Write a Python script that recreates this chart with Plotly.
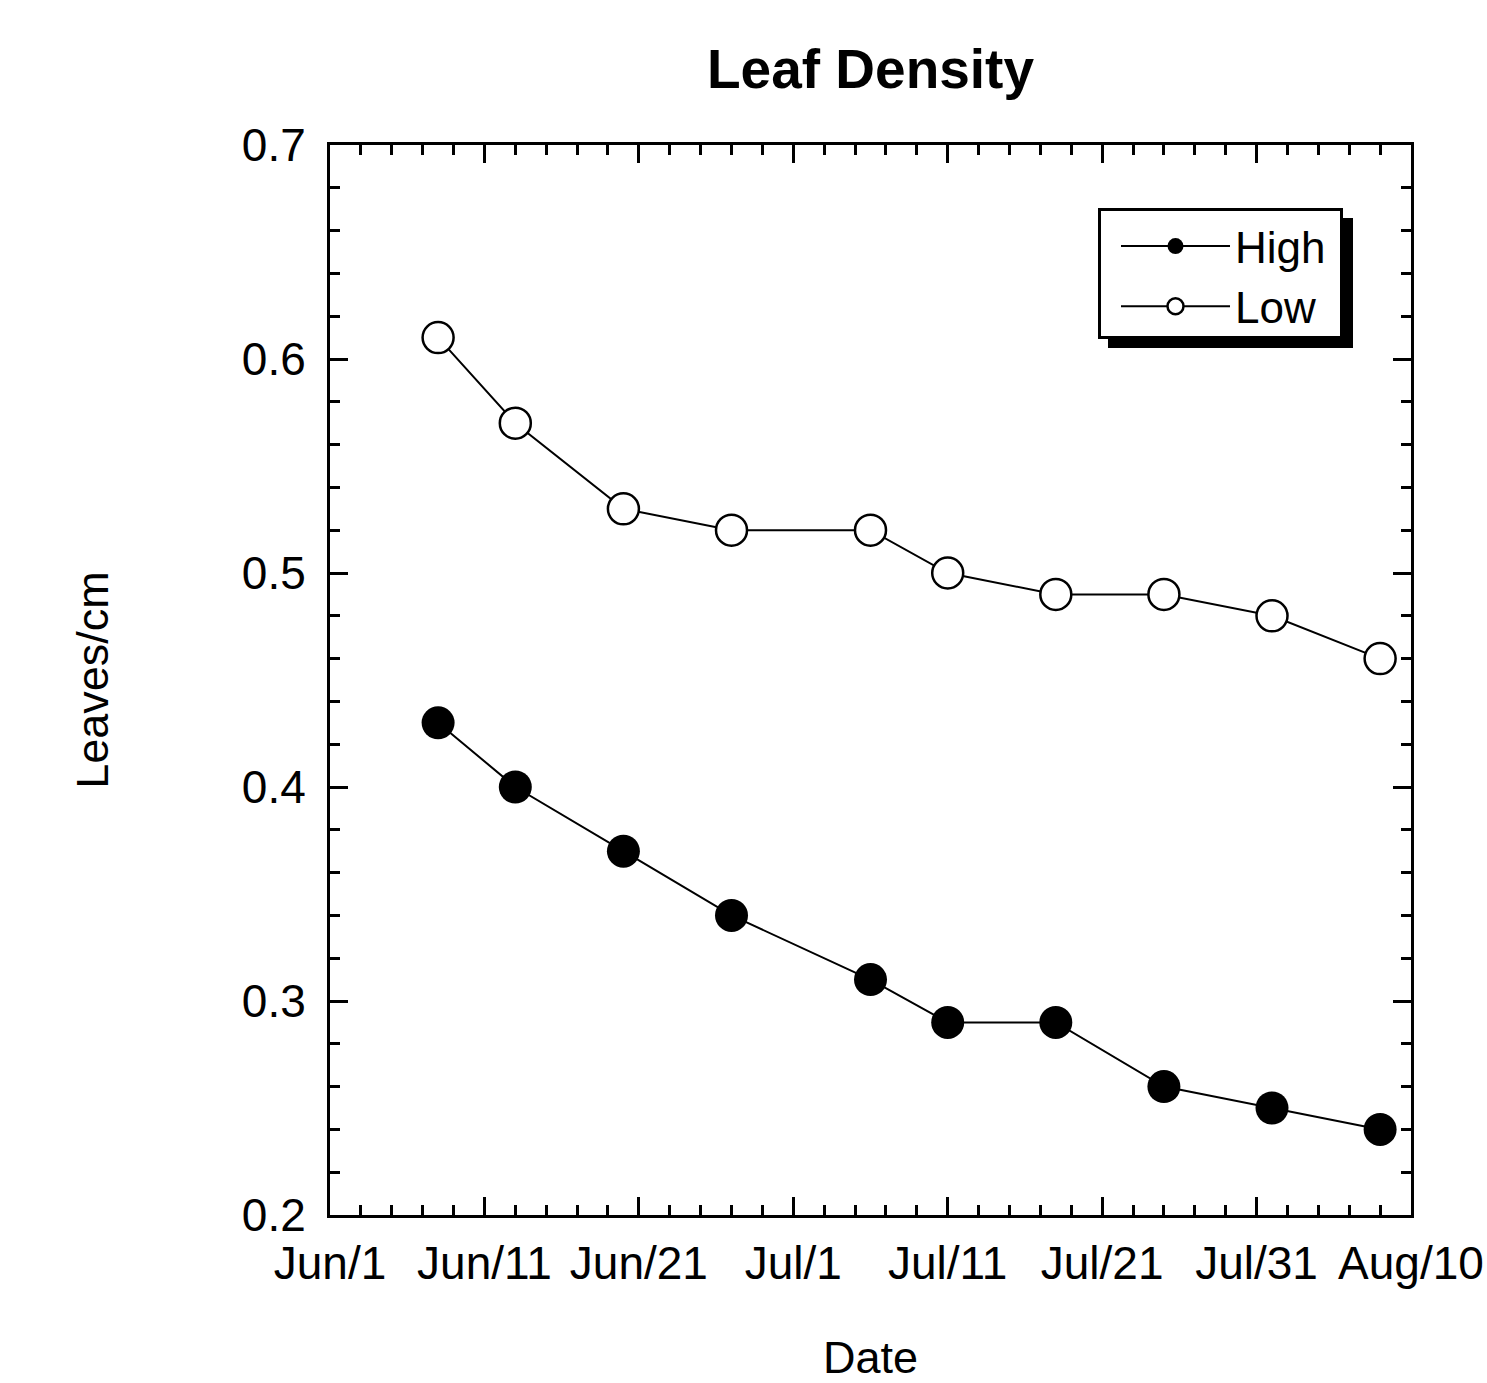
import plotly.graph_objects as go

dates = ["2000-06-08", "2000-06-13", "2000-06-20", "2000-06-27", "2000-07-06",
         "2000-07-11", "2000-07-18", "2000-07-25", "2000-08-01", "2000-08-08"]
high = [0.43, 0.40, 0.37, 0.34, 0.31, 0.29, 0.29, 0.26, 0.25, 0.24]
low = [0.61, 0.57, 0.53, 0.52, 0.52, 0.50, 0.49, 0.49, 0.48, 0.46]

tick_dates = ["2000-06-01", "2000-06-11", "2000-06-21", "2000-07-01",
              "2000-07-11", "2000-07-21", "2000-07-31", "2000-08-10"]
tick_labels = ["Jun/1", "Jun/11", "Jun/21", "Jul/1", "Jul/11", "Jul/21", "Jul/31", "Aug/10"]

FONT = "Liberation Sans, Arial, sans-serif"
W, H = 1487, 1383
L, R, T, B = 330, 76, 145, 168

fig = go.Figure()
fig.add_trace(go.Scatter(
    x=dates, y=high, name="High", mode="lines+markers",
    line=dict(color="black", width=2),
    marker=dict(symbol="circle", size=33, color="black", line=dict(color="black", width=0)),
))
fig.add_trace(go.Scatter(
    x=dates, y=low, name="Low", mode="lines+markers",
    line=dict(color="black", width=2),
    marker=dict(symbol="circle", size=31, color="white", line=dict(color="black", width=2.5)),
))

pw = W - L - R
ph = H - T - B
def px_x(p):
    return (p - L) / pw
def px_y(p):
    return (H - B - p) / ph

# legend frame with drop shadow
fig.add_shape(type="rect", xref="paper", yref="paper",
              x0=px_x(1108), x1=px_x(1353), y0=px_y(348), y1=px_y(218),
              fillcolor="black", line=dict(width=0), layer="above")
fig.add_shape(type="rect", xref="paper", yref="paper",
              x0=px_x(1099.5), x1=px_x(1341.5), y0=px_y(337.5), y1=px_y(209.5),
              fillcolor="white", line=dict(color="black", width=3), layer="above")

axis_common = dict(
    showline=True, linecolor="black", linewidth=3, mirror="allticks",
    ticks="inside", ticklen=18, tickwidth=3, tickcolor="black",
    showgrid=False, zeroline=False,
    tickfont=dict(family=FONT, size=46, color="black"),
)

fig.update_xaxes(
    type="date", range=["2000-06-01", "2000-08-10"],
    tickvals=tick_dates, ticktext=tick_labels,
    minor=dict(dtick=2 * 86400000, tick0="2000-06-01", ticks="inside", ticklen=10,
               tickwidth=3, tickcolor="black", showgrid=False),
    title=dict(text="Date", font=dict(family=FONT, size=45, color="black"), standoff=88),
    ticklabelstandoff=6,
    **axis_common,
)
fig.update_yaxes(
    range=[0.2, 0.7], dtick=0.1, tick0=0.2, tickformat=".1f",
    minor=dict(dtick=0.02, ticks="inside", ticklen=10, tickwidth=3, tickcolor="black", showgrid=False),
    title=dict(text="Leaves/cm", font=dict(family=FONT, size=45, color="black"), standoff=120),
    ticklabelstandoff=12,
    **axis_common,
)

fig.update_layout(
    width=W, height=H,
    margin=dict(l=L, r=R, t=T, b=B, autoexpand=False),
    paper_bgcolor="white", plot_bgcolor="white",
    title=dict(text="<b>Leaf Density</b>", x=0.5, xref="paper", xanchor="center",
               y=1 - 69 / H, yanchor="middle", yref="container",
               font=dict(family=FONT, size=55, color="black")),
    legend=dict(x=px_x(1116), y=px_y(211), xanchor="left", yanchor="top",
                bgcolor="rgba(0,0,0,0)", borderwidth=0,
                font=dict(family=FONT, size=44, color="black"),
                itemwidth=109, tracegroupgap=0),
    showlegend=True,
)

fig.write_html("out.html")
